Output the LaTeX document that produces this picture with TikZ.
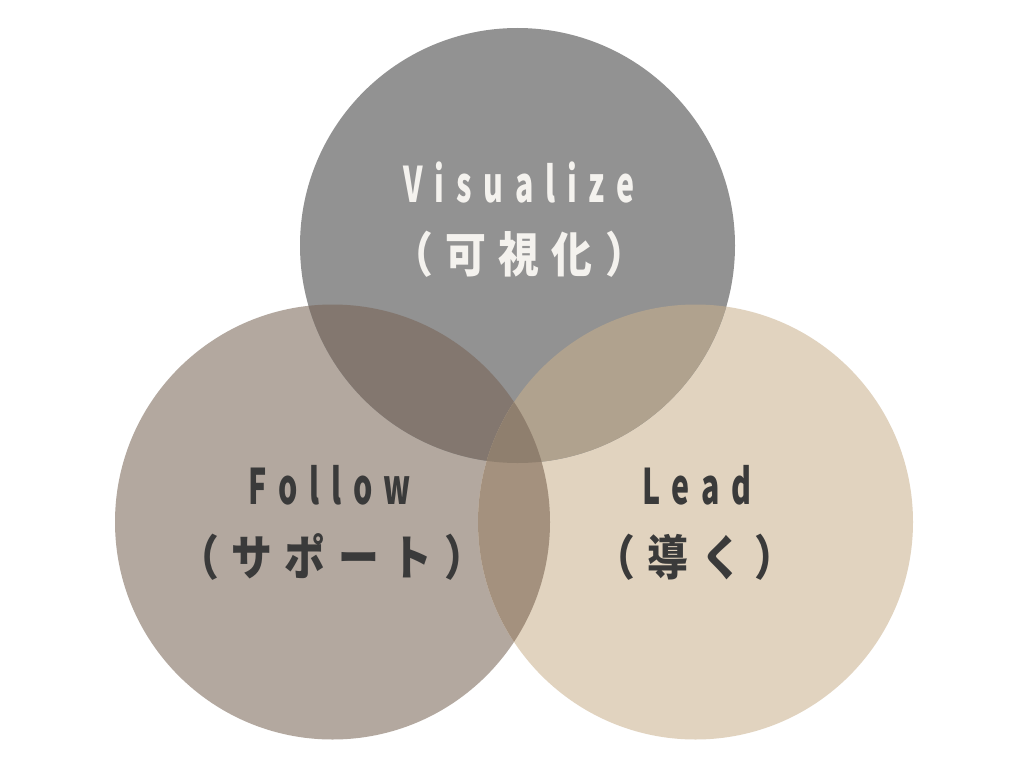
\documentclass[tikz,border=0pt]{standalone}
\usepackage{fontspec}
\newfontfamily\latf[FakeStretch=0.62,LetterSpace=24]{Noto Sans CJK JP}
\newfontfamily\cjkf[FakeStretch=0.85,LetterSpace=26]{Noto Sans CJK JP}
\definecolor{ctop}{HTML}{929292}
\definecolor{cleft}{HTML}{B3A89F}
\definecolor{cright}{HTML}{E1D3BF}
\definecolor{ctl}{HTML}{83776F}
\definecolor{ctr}{HTML}{B0A28E}
\definecolor{clr}{HTML}{A4917E}
\definecolor{call}{HTML}{8F7F6E}
\definecolor{lighttxt}{HTML}{F4F2EE}
\definecolor{darktxt}{HTML}{3A3A3A}
\begin{document}
\begin{tikzpicture}[x=1pt,y=-1pt,
  en/.style={anchor=base,inner sep=0pt,font=\latf\bfseries\fontsize{49}{50}\selectfont},
  jp/.style={anchor=base,inner sep=0pt,font=\cjkf\bfseries\fontsize{48}{50}\selectfont}]
\useasboundingbox (0,0) rectangle (1024,768);
\fill[white] (0,0) rectangle (1024,768);
\coordinate (T) at (517.5,245.5);
\coordinate (L) at (332.5,522);
\coordinate (Rc) at (695.5,522);
\def\rad{217.5pt}
\fill[cleft] (L) circle[radius=\rad];
\fill[cright] (Rc) circle[radius=\rad];
\fill[ctop] (T) circle[radius=\rad];
\begin{scope}
  \clip (T) circle[radius=\rad];
  \fill[ctl] (L) circle[radius=\rad];
  \fill[ctr] (Rc) circle[radius=\rad];
\end{scope}
\begin{scope}
  \clip (L) circle[radius=\rad];
  \fill[clr] (Rc) circle[radius=\rad];
\end{scope}
\begin{scope}
  \clip (T) circle[radius=\rad];
  \clip (L) circle[radius=\rad];
  \fill[call] (Rc) circle[radius=\rad];
\end{scope}
\node[en,text=lighttxt] (visEN) at (519,202) {Visualize};
\node[jp,text=lighttxt] (visJP) at (519,272) {（可視化）};
\node[en,text=darktxt] (folEN) at (330,504) {Follow};
\node[jp,text=darktxt] (folJP) at (332,575) {（サポート）};
\node[en,text=darktxt] (leadEN) at (697,504) {Lead};
\node[jp,text=darktxt] (leadJP) at (695,575) {（導く）};
\end{tikzpicture}
\end{document}
